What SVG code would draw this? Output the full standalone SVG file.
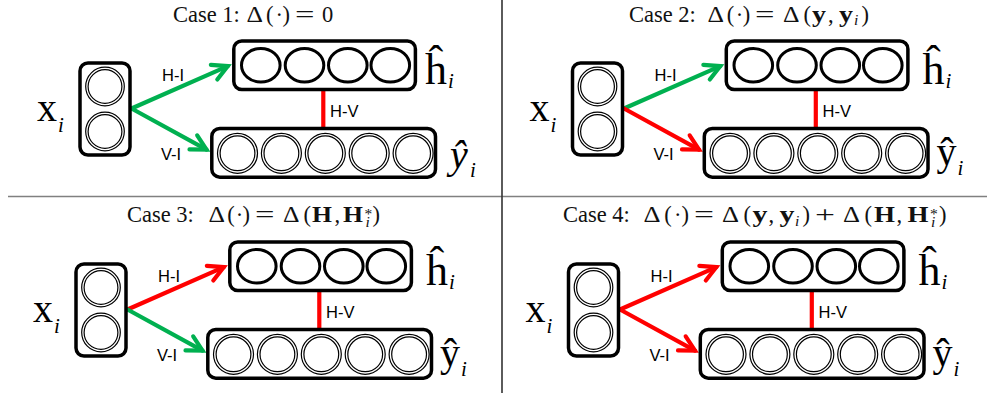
<svg xmlns="http://www.w3.org/2000/svg" width="987" height="402" viewBox="0 0 987 402">
<style>
.box{fill:#fff;stroke:#000;stroke-width:3.5}
.hc{fill:none;stroke:#000;stroke-width:3}
.dc{fill:none;stroke:#000;stroke-width:1.2}
.g{stroke:#00b050;stroke-width:4.2;fill:none;stroke-linecap:round}
.r{stroke:#ff0000;stroke-width:4.2;fill:none;stroke-linecap:round}
.hv{stroke:#ff0000;stroke-width:4.2;fill:none}
.lab{font-family:"Liberation Sans",Arial,sans-serif;font-size:16.5px;fill:#000}
.big{font-family:"Liberation Serif","Times New Roman",serif;fill:#000}
.it{font-style:italic}
.tt{font-family:"Liberation Serif","Times New Roman",serif;font-size:22.5px;fill:#111}
.bd{font-weight:bold}
.sm{font-size:15.5px}
</style>
<defs>
<marker id="mg" markerUnits="userSpaceOnUse" markerWidth="30" markerHeight="30" refX="0" refY="0" orient="auto" overflow="visible">
<path d="M-15,-8 L0,0 L-15,8" fill="none" stroke="#00b050" stroke-width="4.2" stroke-linecap="round"/>
</marker>
<marker id="mr" markerUnits="userSpaceOnUse" markerWidth="30" markerHeight="30" refX="0" refY="0" orient="auto" overflow="visible">
<path d="M-15,-8 L0,0 L-15,8" fill="none" stroke="#ff0000" stroke-width="4.2" stroke-linecap="round"/>
</marker>
</defs>
<rect width="987" height="402" fill="#fff"/>
<g id="dividers">
<line x1="8" y1="196.5" x2="987" y2="196.5" stroke="#808080" stroke-width="1.6"/>
<line x1="502" y1="0" x2="502" y2="393" stroke="#333" stroke-width="1.6"/>
</g>
<g id="titles">
<text class="tt" y="21.5"><tspan x="173">Case 1:</tspan><tspan x="246.5" textLength="16.5" lengthAdjust="spacingAndGlyphs">Δ</tspan><tspan x="266">(</tspan><tspan x="275.4">·</tspan><tspan x="282.6">)</tspan><tspan x="295" textLength="19.5" lengthAdjust="spacingAndGlyphs">=</tspan><tspan x="322">0</tspan></text>
<text class="tt" y="21.5"><tspan x="629">Case 2:</tspan><tspan x="707.5" textLength="16.5" lengthAdjust="spacingAndGlyphs">Δ</tspan><tspan x="726.8">(</tspan><tspan x="735.7">·</tspan><tspan x="742.7">)</tspan><tspan x="755" textLength="19.5" lengthAdjust="spacingAndGlyphs">=</tspan><tspan x="783" textLength="16.5" lengthAdjust="spacingAndGlyphs">Δ</tspan><tspan x="803.5">(</tspan><tspan x="812" class="bd" textLength="14" lengthAdjust="spacingAndGlyphs">y</tspan><tspan x="828">,</tspan><tspan x="839" class="bd" textLength="14" lengthAdjust="spacingAndGlyphs">y</tspan><tspan x="854" y="25" class="it sm">i</tspan><tspan x="861.5" y="21.5">)</tspan></text>
<text class="tt" y="222"><tspan x="127">Case 3:</tspan><tspan x="208.5" textLength="16.5" lengthAdjust="spacingAndGlyphs">Δ</tspan><tspan x="227.2">(</tspan><tspan x="235.7">·</tspan><tspan x="242.5">)</tspan><tspan x="255" textLength="19.5" lengthAdjust="spacingAndGlyphs">=</tspan><tspan x="283" textLength="16.5" lengthAdjust="spacingAndGlyphs">Δ</tspan><tspan x="303.5">(</tspan><tspan x="312" class="bd" textLength="20" lengthAdjust="spacingAndGlyphs">H</tspan><tspan x="334.5">,</tspan><tspan x="343" class="bd" textLength="20" lengthAdjust="spacingAndGlyphs">H</tspan><tspan x="364.5" y="218.5" class="sm">*</tspan><tspan x="365.5" y="226.5" class="it sm">i</tspan><tspan x="372.5" y="222">)</tspan></text>
<text class="tt" y="222"><tspan x="563">Case 4:</tspan><tspan x="643.5" textLength="17" lengthAdjust="spacingAndGlyphs">Δ</tspan><tspan x="664.3">(</tspan><tspan x="674">·</tspan><tspan x="681.4">)</tspan><tspan x="694" textLength="20" lengthAdjust="spacingAndGlyphs">=</tspan><tspan x="722" textLength="17" lengthAdjust="spacingAndGlyphs">Δ</tspan><tspan x="743.5">(</tspan><tspan x="752.5" class="bd" textLength="15" lengthAdjust="spacingAndGlyphs">y</tspan><tspan x="768.5">,</tspan><tspan x="779.5" class="bd" textLength="15" lengthAdjust="spacingAndGlyphs">y</tspan><tspan x="795" y="225.5" class="it sm">i</tspan><tspan x="802.5" y="222">)</tspan><tspan x="815" textLength="20" lengthAdjust="spacingAndGlyphs">+</tspan><tspan x="843" textLength="17" lengthAdjust="spacingAndGlyphs">Δ</tspan><tspan x="864.5">(</tspan><tspan x="874" class="bd" textLength="21" lengthAdjust="spacingAndGlyphs">H</tspan><tspan x="896.5">,</tspan><tspan x="907.5" class="bd" textLength="21" lengthAdjust="spacingAndGlyphs">H</tspan><tspan x="930" y="218.5" class="sm">*</tspan><tspan x="931" y="226.5" class="it sm">i</tspan><tspan x="939" y="222">)</tspan></text>
</g>

<!-- Panel 1 -->
<g id="panel1">
<g id="p1-edges">
<line class="hv" x1="323.3" y1="91" x2="323.3" y2="127"/>
<line class="g" x1="131.5" y1="108.5" x2="227.8" y2="66.1" marker-end="url(#mg)"/>
<line class="g" x1="131.5" y1="108.5" x2="206.5" y2="149.6" marker-end="url(#mg)"/>
<text class="lab" x="162" y="81">H-I</text>
<text class="lab" x="161" y="160">V-I</text>
<text class="lab" x="330" y="117">H-V</text>
</g>
<g id="p1-x">
<rect class="box" x="80" y="63" width="50" height="92" rx="8"/>
<circle class="dc" cx="105" cy="86.5" r="19.3"/><circle class="dc" cx="105" cy="86.5" r="16.9"/>
<circle class="dc" cx="105" cy="131.5" r="19.3"/><circle class="dc" cx="105" cy="131.5" r="16.9"/>
<text class="big" x="37" y="120.5" font-size="40">x<tspan class="it" font-size="21" dx="1" dy="11.5">i</tspan></text>
</g>
<g id="p1-h">
<rect class="box" x="233.8" y="41" width="181.6" height="48.5" rx="8"/>
<ellipse class="hc" cx="260.8" cy="65.2" rx="19.3" ry="16.8"/>
<ellipse class="hc" cx="304.5" cy="65.2" rx="19.3" ry="16.8"/>
<ellipse class="hc" cx="347.8" cy="65.2" rx="19.3" ry="16.8"/>
<ellipse class="hc" cx="390.3" cy="65.2" rx="19.3" ry="16.8"/>
<text class="big" x="425" y="83.5" font-size="44">ĥ<tspan class="it" font-size="21" dx="1" dy="4.5">i</tspan></text>
</g>
<g id="p1-y">
<rect class="box" x="211.8" y="128.5" width="223.7" height="48.7" rx="8"/>
<circle class="dc" cx="237.5" cy="153.3" r="20"/><circle class="dc" cx="237.5" cy="153.3" r="17.4"/>
<circle class="dc" cx="281.4" cy="153.3" r="20"/><circle class="dc" cx="281.4" cy="153.3" r="17.4"/>
<circle class="dc" cx="325.3" cy="153.3" r="20"/><circle class="dc" cx="325.3" cy="153.3" r="17.4"/>
<circle class="dc" cx="369.2" cy="153.3" r="20"/><circle class="dc" cx="369.2" cy="153.3" r="17.4"/>
<circle class="dc" cx="413.1" cy="153.3" r="20"/><circle class="dc" cx="413.1" cy="153.3" r="17.4"/>
<text class="big it" x="450" y="168" font-size="40">ŷ<tspan font-size="21" dx="2.2" dy="9">i</tspan></text>
</g>
</g>

<!-- Panel 2 -->
<g id="panel2" transform="translate(492.5,0)">
<g id="p2-edges">
<line class="hv" x1="323.3" y1="91" x2="323.3" y2="127"/>
<line class="g" x1="131.5" y1="108.5" x2="227.8" y2="66.1" marker-end="url(#mg)"/>
<line class="r" x1="131.5" y1="108.5" x2="206.5" y2="149.6" marker-end="url(#mr)"/>
<text class="lab" x="162" y="81">H-I</text>
<text class="lab" x="161" y="160">V-I</text>
<text class="lab" x="330" y="117">H-V</text>
</g>
<g id="p2-x">
<rect class="box" x="80" y="63" width="50" height="92" rx="8"/>
<circle class="dc" cx="105" cy="86.5" r="19.3"/><circle class="dc" cx="105" cy="86.5" r="16.9"/>
<circle class="dc" cx="105" cy="131.5" r="19.3"/><circle class="dc" cx="105" cy="131.5" r="16.9"/>
<text class="big" x="37" y="120.5" font-size="40">x<tspan class="it" font-size="21" dx="1" dy="11.5">i</tspan></text>
</g>
<g id="p2-h">
<rect class="box" x="233.8" y="41" width="181.6" height="48.5" rx="8"/>
<ellipse class="hc" cx="260.8" cy="65.2" rx="19.3" ry="16.8"/>
<ellipse class="hc" cx="304.5" cy="65.2" rx="19.3" ry="16.8"/>
<ellipse class="hc" cx="347.8" cy="65.2" rx="19.3" ry="16.8"/>
<ellipse class="hc" cx="390.3" cy="65.2" rx="19.3" ry="16.8"/>
<text class="big" x="430" y="83.5" font-size="44">ĥ<tspan class="it" font-size="21" dx="1" dy="4.5">i</tspan></text>
</g>
<g id="p2-y">
<rect class="box" x="211.8" y="128.5" width="223.7" height="48.7" rx="8"/>
<circle class="dc" cx="237.5" cy="153.3" r="20"/><circle class="dc" cx="237.5" cy="153.3" r="17.4"/>
<circle class="dc" cx="281.4" cy="153.3" r="20"/><circle class="dc" cx="281.4" cy="153.3" r="17.4"/>
<circle class="dc" cx="325.3" cy="153.3" r="20"/><circle class="dc" cx="325.3" cy="153.3" r="17.4"/>
<circle class="dc" cx="369.2" cy="153.3" r="20"/><circle class="dc" cx="369.2" cy="153.3" r="17.4"/>
<circle class="dc" cx="413.1" cy="153.3" r="20"/><circle class="dc" cx="413.1" cy="153.3" r="17.4"/>
<text class="big" x="444" y="165" font-size="40">ŷ<tspan class="it" font-size="21" dx="1" dy="10">i</tspan></text>
</g>
</g>

<!-- Panel 3 -->
<g id="panel3" transform="translate(-4,201)">
<g id="p3-edges">
<line class="hv" x1="323.3" y1="91" x2="323.3" y2="127"/>
<line class="r" x1="131.5" y1="108.5" x2="227.8" y2="66.1" marker-end="url(#mr)"/>
<line class="g" x1="131.5" y1="108.5" x2="206.5" y2="149.6" marker-end="url(#mg)"/>
<text class="lab" x="162" y="81">H-I</text>
<text class="lab" x="161" y="160">V-I</text>
<text class="lab" x="330" y="117">H-V</text>
</g>
<g id="p3-x">
<rect class="box" x="80" y="63" width="50" height="92" rx="8"/>
<circle class="dc" cx="105" cy="86.5" r="19.3"/><circle class="dc" cx="105" cy="86.5" r="16.9"/>
<circle class="dc" cx="105" cy="131.5" r="19.3"/><circle class="dc" cx="105" cy="131.5" r="16.9"/>
<text class="big" x="37" y="120.5" font-size="40">x<tspan class="it" font-size="21" dx="1" dy="11.5">i</tspan></text>
</g>
<g id="p3-h">
<rect class="box" x="233.8" y="41" width="181.6" height="48.5" rx="8"/>
<ellipse class="hc" cx="260.8" cy="65.2" rx="19.3" ry="16.8"/>
<ellipse class="hc" cx="304.5" cy="65.2" rx="19.3" ry="16.8"/>
<ellipse class="hc" cx="347.8" cy="65.2" rx="19.3" ry="16.8"/>
<ellipse class="hc" cx="390.3" cy="65.2" rx="19.3" ry="16.8"/>
<text class="big" x="430" y="83.5" font-size="44">ĥ<tspan class="it" font-size="21" dx="1" dy="4.5">i</tspan></text>
</g>
<g id="p3-y">
<rect class="box" x="211.8" y="128.5" width="223.7" height="48.7" rx="8"/>
<circle class="dc" cx="237.5" cy="153.3" r="20"/><circle class="dc" cx="237.5" cy="153.3" r="17.4"/>
<circle class="dc" cx="281.4" cy="153.3" r="20"/><circle class="dc" cx="281.4" cy="153.3" r="17.4"/>
<circle class="dc" cx="325.3" cy="153.3" r="20"/><circle class="dc" cx="325.3" cy="153.3" r="17.4"/>
<circle class="dc" cx="369.2" cy="153.3" r="20"/><circle class="dc" cx="369.2" cy="153.3" r="17.4"/>
<circle class="dc" cx="413.1" cy="153.3" r="20"/><circle class="dc" cx="413.1" cy="153.3" r="17.4"/>
<text class="big" x="444" y="165" font-size="40">ŷ<tspan class="it" font-size="21" dx="1" dy="10">i</tspan></text>
</g>
</g>

<!-- Panel 4 -->
<g id="panel4" transform="translate(488.5,201)">
<g id="p4-edges">
<line class="hv" x1="323.3" y1="91" x2="323.3" y2="127"/>
<line class="r" x1="131.5" y1="108.5" x2="227.8" y2="66.1" marker-end="url(#mr)"/>
<line class="r" x1="131.5" y1="108.5" x2="206.5" y2="149.6" marker-end="url(#mr)"/>
<text class="lab" x="162" y="81">H-I</text>
<text class="lab" x="161" y="160">V-I</text>
<text class="lab" x="330" y="117">H-V</text>
</g>
<g id="p4-x">
<rect class="box" x="80" y="63" width="50" height="92" rx="8"/>
<circle class="dc" cx="105" cy="86.5" r="19.3"/><circle class="dc" cx="105" cy="86.5" r="16.9"/>
<circle class="dc" cx="105" cy="131.5" r="19.3"/><circle class="dc" cx="105" cy="131.5" r="16.9"/>
<text class="big" x="37" y="120.5" font-size="40">x<tspan class="it" font-size="21" dx="1" dy="11.5">i</tspan></text>
</g>
<g id="p4-h">
<rect class="box" x="233.8" y="41" width="181.6" height="48.5" rx="8"/>
<ellipse class="hc" cx="260.8" cy="65.2" rx="19.3" ry="16.8"/>
<ellipse class="hc" cx="304.5" cy="65.2" rx="19.3" ry="16.8"/>
<ellipse class="hc" cx="347.8" cy="65.2" rx="19.3" ry="16.8"/>
<ellipse class="hc" cx="390.3" cy="65.2" rx="19.3" ry="16.8"/>
<text class="big" x="430" y="83.5" font-size="44">ĥ<tspan class="it" font-size="21" dx="1" dy="4.5">i</tspan></text>
</g>
<g id="p4-y">
<rect class="box" x="211.8" y="128.5" width="223.7" height="48.7" rx="8"/>
<circle class="dc" cx="237.5" cy="153.3" r="20"/><circle class="dc" cx="237.5" cy="153.3" r="17.4"/>
<circle class="dc" cx="281.4" cy="153.3" r="20"/><circle class="dc" cx="281.4" cy="153.3" r="17.4"/>
<circle class="dc" cx="325.3" cy="153.3" r="20"/><circle class="dc" cx="325.3" cy="153.3" r="17.4"/>
<circle class="dc" cx="369.2" cy="153.3" r="20"/><circle class="dc" cx="369.2" cy="153.3" r="17.4"/>
<circle class="dc" cx="413.1" cy="153.3" r="20"/><circle class="dc" cx="413.1" cy="153.3" r="17.4"/>
<text class="big" x="444" y="165" font-size="40">ŷ<tspan class="it" font-size="21" dx="1" dy="10">i</tspan></text>
</g>
</g>
</svg>
